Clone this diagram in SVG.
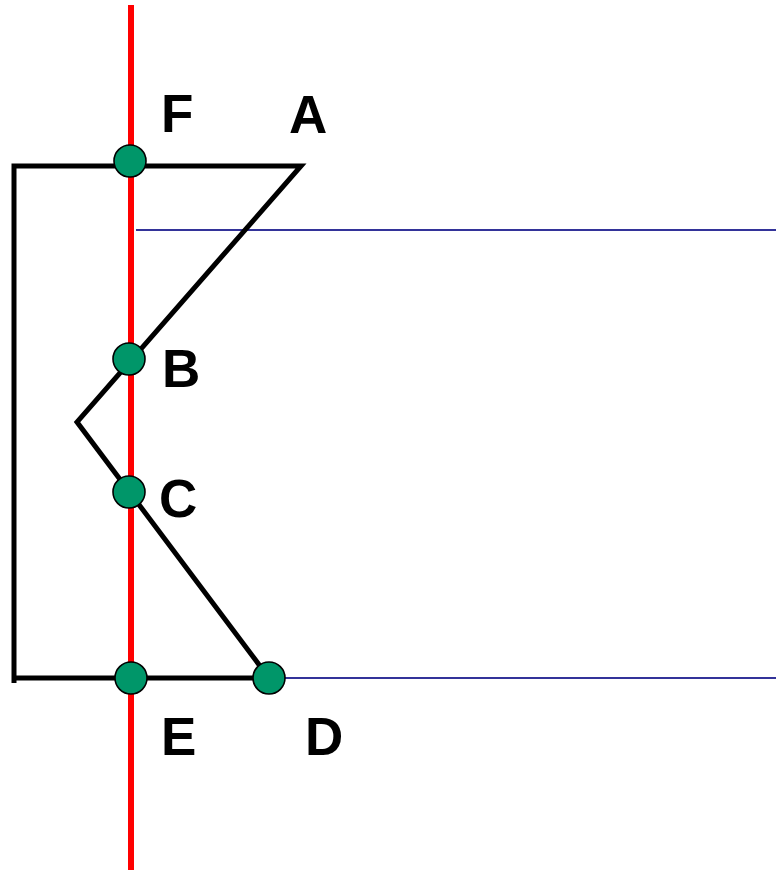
<svg xmlns="http://www.w3.org/2000/svg" width="776" height="870" viewBox="0 0 776 870">
<style>
.blk{fill:none;stroke:#000;stroke-width:5;stroke-linejoin:miter}
.blue{stroke:#333399;stroke-width:2}
.red{stroke:#ff0000;stroke-width:6}
.pt{fill:#009669;stroke:#000;stroke-width:1.6}
.lbl{font-family:"Liberation Sans",Arial,sans-serif;font-weight:bold;font-size:53px;fill:#000}
</style>
<rect width="776" height="870" fill="#fff"/>
<g id="connectors">
<line class="blue" x1="136" y1="230" x2="776" y2="230"/>
<line class="blue" x1="269" y1="678" x2="776" y2="678"/>
<polyline class="blk" points="14,683 14,166 301,166 77,422 269,678"/>
<line class="blk" x1="14" y1="678" x2="269" y2="678"/>
<line class="red" x1="131" y1="5" x2="131" y2="870"/>
</g>
<g id="F"><circle class="pt" cx="130" cy="161" r="16"/><text class="lbl" x="161" y="132">F</text></g>
<g id="A"><text class="lbl" x="289" y="133">A</text></g>
<g id="B"><circle class="pt" cx="129" cy="359" r="16"/><text class="lbl" x="162" y="387">B</text></g>
<g id="C"><circle class="pt" cx="129" cy="492" r="16"/><text class="lbl" x="159" y="517">C</text></g>
<g id="E"><circle class="pt" cx="131" cy="678" r="16"/><text class="lbl" x="161" y="755">E</text></g>
<g id="D"><circle class="pt" cx="269" cy="678" r="16"/><text class="lbl" x="305" y="755">D</text></g>
</svg>
